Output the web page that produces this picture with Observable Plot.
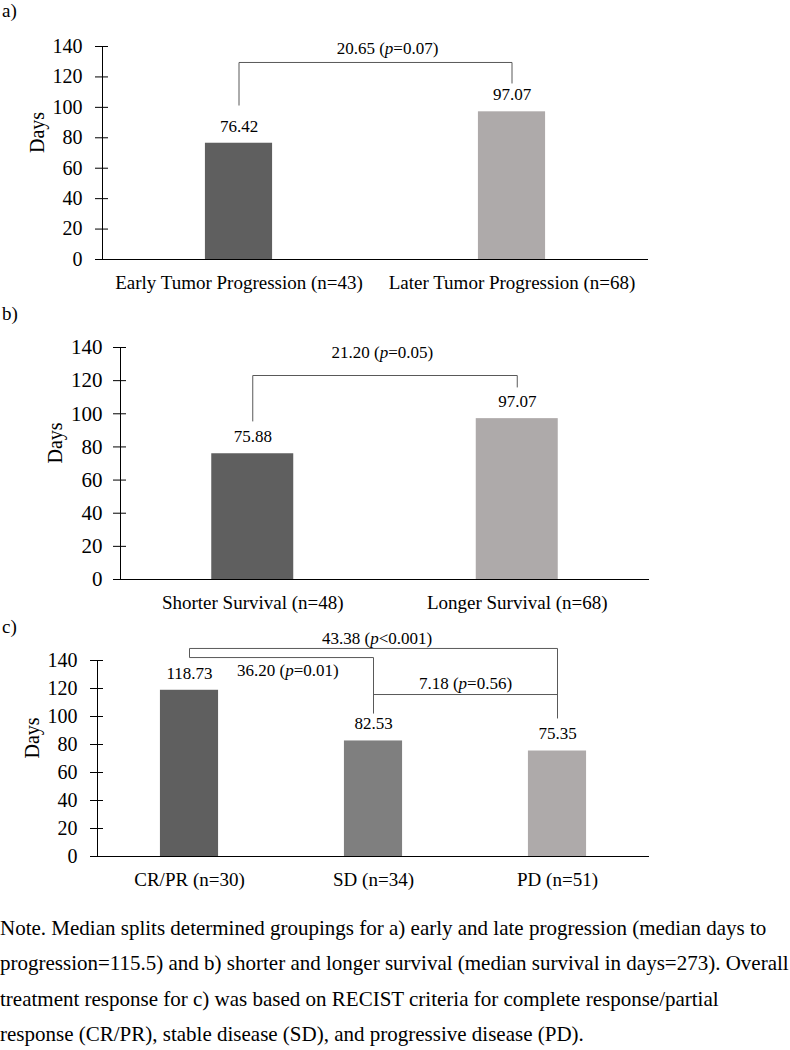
<!DOCTYPE html>
<html>
<head>
<meta charset="utf-8">
<script src="https://cdn.jsdelivr.net/npm/d3@7"></script>
<script src="https://cdn.jsdelivr.net/npm/@observablehq/plot@0.6"></script>
<style>
  body { margin: 0; background: #fff; font-family: "Liberation Serif", "Times New Roman", serif; color: #000; }
  #fig { position: relative; width: 790px; }
  .tag { position: absolute; left: 2px; font-size: 19px; line-height: 20px; }
  .note { font-size: 21px; line-height: 35.3px; white-space: nowrap; padding-top: 21px; }
</style>
</head>
<body>
<div id="fig">
  <div id="charts"></div>
  <div class="tag" style="top:1px">a)</div>
  <div class="tag" style="top:304px">b)</div>
  <div class="tag" style="top:617px">c)</div>
  <div class="note">
    Note. Median splits determined groupings for a) early and late progression (median days to<br>
    progression=115.5) and b) shorter and longer survival (median survival in days=273). Overall<br>
    treatment response for c) was based on RECIST criteria for complete response/partial<br>
    response (CR/PR), stable disease (SD), and progressive disease (PD).
  </div>
</div>
<script>
// datos de cada panel
const aCats = ["Early Tumor Progression (n=43)", "Later Tumor Progression (n=68)"]
const aDays = [76.42, 97.07]
const bCats = ["Shorter Survival (n=48)", "Longer Survival (n=68)"]
const bDays = [75.88, 97.07]
const cCats = ["CR/PR (n=30)", "SD (n=34)", "PD (n=51)"]
const cDays = [118.73, 82.53, 75.35]
const yTicks = [0, 20, 40, 60, 80, 100, 120, 140]

// comparaciones entre grupos (indices de categoria + texto)
const aTests = [{from: 0, to: 1, text: "20.65 (p=0.07)"}]
const bTests = [{from: 0, to: 1, text: "21.20 (p=0.05)"}]
const cTests = [
  {from: 0, to: 2, text: "43.38 (p<0.001)"},
  {from: 0, to: 1, text: "36.20 (p=0.01)"},
  {from: 1, to: 2, text: "7.18 (p=0.56)"}
]

// geometria de las llaves, en unidades de los ejes
const aBrackets = [{top: 129.5, legs: [101.2, 115.7], textX: 0.544, textY: 138.7}]
const bBrackets = [{top: 123.1, legs: [95.4, 115.9], textX: 0.49, textY: 137}]
const cBrackets = [
  {top: 148.6, legs: [142.1, 98.6], textX: 1.02, textY: 155.7},
  {top: 142.1, legs: [142.1, 102.1], textX: 0.535, textY: 132.9},
  {top: 115.7, legs: [115.7, 115.7], textX: 1.5, textY: 123.6}
]

const dark = "#5f5f5f", mid = "#7f7f7f", light = "#aeaaaa"

function panel({cats, days, colors, tests, brackets, height, marginTop, marginBottom, marginLeft, marginRight, half, tickFont = 20, tickPad = 13}) {
  const bars = cats.map((c, i) => ({i, cat: c, days: days[i]}))
  const idx = cats.map((c, i) => i)
  const br = tests.map((t, k) => ({...t, ...brackets[k]}))
  const segs = br.flatMap(b => [
    {x1: b.from, y1: b.legs[0], x2: b.from, y2: b.top},
    {x1: b.from, y1: b.top, x2: b.to, y2: b.top},
    {x1: b.to, y1: b.top, x2: b.to, y2: b.legs[1]}
  ])
  const chart = Plot.plot({
    width: 790, height, marginTop, marginBottom, marginLeft, marginRight,
    style: {fontFamily: "'Liberation Serif', 'Times New Roman', serif", fontSize: "20px", color: "#000", background: "#fff", overflow: "visible"},
    x: {type: "linear", domain: [-0.5, cats.length - 0.5]},
    y: {domain: [0, 140]},
    color: {domain: cats, range: colors},
    marks: [
      Plot.rect(bars, {x1: d => d.i - half, x2: d => d.i + half, y1: 0, y2: "days", fill: "cat"}),
      Plot.ruleY([0], {stroke: "#000"}),
      Plot.ruleX([-0.5], {y1: 0, y2: 140, stroke: "#000"}),
      Plot.axisY(yTicks, {tickSize: 13, dx: 6, tickPadding: tickPad, fontSize: tickFont, label: null}),
      Plot.axisX(idx, {tickFormat: i => cats[i], tickSize: 0, tickPadding: 16, fontSize: 19, label: null}),
      Plot.text(["Days"], {frameAnchor: "left", dx: -65, rotate: -90, fontSize: 20}),
      Plot.text(bars, {x: "i", y: "days", text: d => d.days.toFixed(2), dy: -17, fontSize: 17}),
      Plot.link(segs, {x1: "x1", y1: "y1", x2: "x2", y2: "y2", stroke: "#595959", strokeWidth: 1}),
      Plot.text(br, {x: "textX", y: "textY", text: "text", fontSize: 17})
    ]
  })
  // la "p" va en cursiva
  d3.select(chart).selectAll("text")
    .filter(function() { return /\(p[=<]/.test(this.textContent) })
    .each(function() {
      const s = this.textContent
      const k = s.indexOf("(p") + 1
      const t = d3.select(this).text("")
      t.append("tspan").text(s.slice(0, k))
      t.append("tspan").attr("font-style", "italic").text("p")
      t.append("tspan").text(s.slice(k + 1))
    })
  return chart
}

const charts = d3.select("#charts")
charts.append(() => panel({
  cats: aCats, days: aDays, colors: [dark, light], tests: aTests, brackets: aBrackets,
  height: 300, marginTop: 46, marginBottom: 41, marginLeft: 102, marginRight: 142, half: 0.123
}))
charts.append(() => panel({
  cats: bCats, days: bDays, colors: [dark, light], tests: bTests, brackets: bBrackets,
  height: 315, marginTop: 47, marginBottom: 36, marginLeft: 120, marginRight: 141, half: 0.155,
  tickFont: 21, tickPad: 11
}))
charts.append(() => panel({
  cats: cCats, days: cDays, colors: [dark, mid, light], tests: cTests, brackets: cBrackets,
  height: 275, marginTop: 45, marginBottom: 34, marginLeft: 97, marginRight: 141, half: 0.158
}))
</script>
</body>
</html>
